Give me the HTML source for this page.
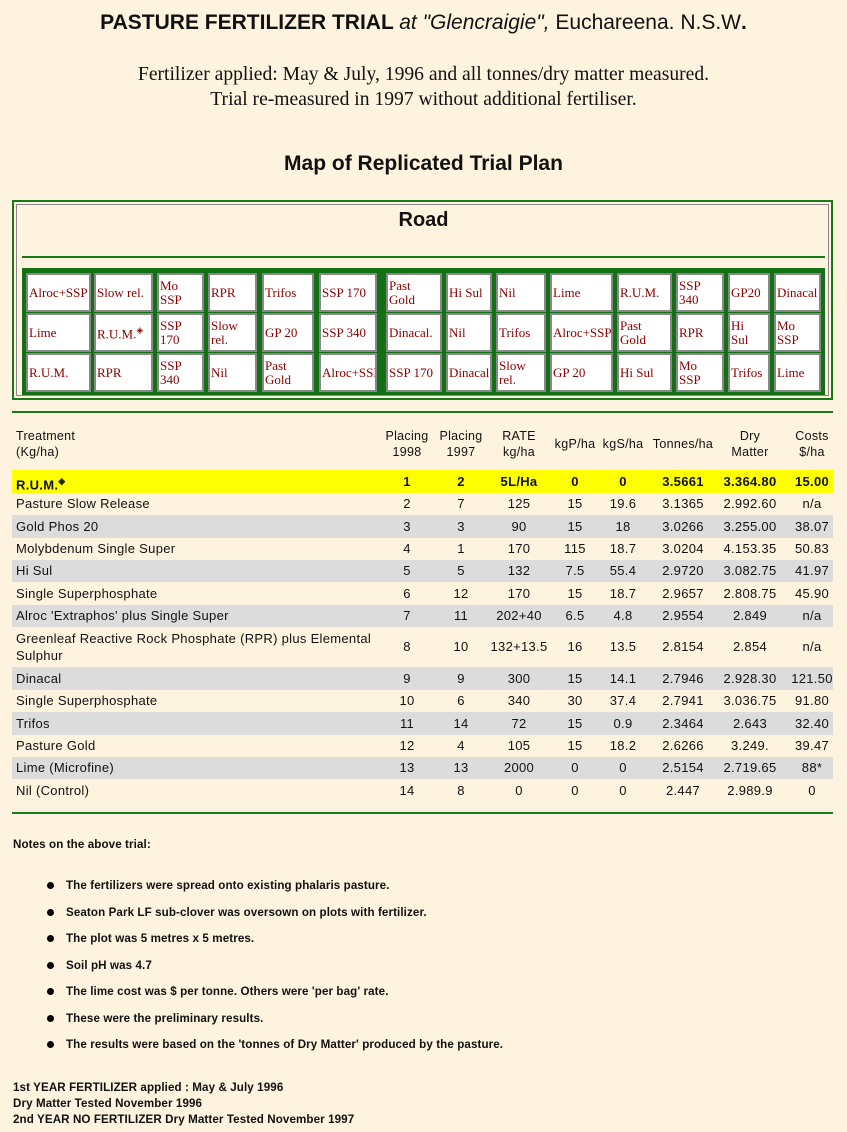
<!DOCTYPE html>
<html><head><meta charset="utf-8"><style>
body{margin:0;width:847px;height:1132px;background:#fdf3de;position:relative;overflow:hidden;font-family:"Liberation Sans",sans-serif;color:#111}
.a{position:absolute;white-space:nowrap}
.c{position:absolute;background:#fff;border:2px solid #888;box-sizing:border-box;font-family:"Liberation Serif",serif;font-size:13px;color:#8b0000;line-height:14px;padding:1px 1px;display:flex;align-items:center;overflow:hidden;white-space:nowrap}
.r{position:absolute;left:12px;width:821px;font-size:13px;letter-spacing:.3px}
.n{position:absolute;text-align:center;transform:translateX(-50%);white-space:nowrap}
.notes{font-size:11.6px;font-weight:bold;color:#111;letter-spacing:.1px}
</style></head><body>
<div class="a" style="left:0;width:847px;text-align:center;top:11px;font-size:21px;font-weight:bold">PASTURE FERTILIZER TRIAL <i style="font-weight:normal">at "Glencraigie",</i> <span style="font-weight:normal">Euchareena. N.S.W</span>.</div>
<div class="a" style="left:0;width:847px;text-align:center;top:62px;font-family:'Liberation Serif',serif;font-size:19.6px;line-height:25px">Fertilizer applied: May &amp; July, 1996 and all tonnes/dry matter measured.<br>Trial re-measured in 1997 without additional fertiliser.</div>
<div class="a" style="left:0;width:847px;text-align:center;top:152px;font-size:21px;font-weight:bold">Map of Replicated Trial Plan</div>
<div class="a" style="left:12px;top:200px;width:821px;height:200px;border:2px solid #1a7a1a;box-sizing:border-box"></div>
<div class="a" style="left:16px;top:204px;width:813px;height:192px;border:1px solid #888;box-sizing:border-box"></div>
<div class="a" style="left:0;width:847px;text-align:center;top:209px;font-size:20px;font-weight:bold">Road</div>
<div class="a" style="left:22px;top:256px;width:803px;height:2px;background:#1a7a1a"></div>
<div class="a" style="left:22px;top:268px;width:803px;height:127px;background:#147014"></div>
<div id="grid"></div>
<div class="a" style="left:12px;top:411px;width:821px;height:2px;background:#1a7a1a"></div>
<div class="a" style="left:12px;top:812px;width:821px;height:2px;background:#1a7a1a"></div>
<div id="tbl"></div>
<div class="a notes" style="left:13px;top:838px">Notes on the above trial:</div>
<div id="notes"></div>
<div class="a notes" style="left:13px;top:1080px;line-height:16px">1st YEAR FERTILIZER applied : May &amp; July 1996<br>Dry Matter Tested November 1996<br>2nd YEAR NO FERTILIZER Dry Matter Tested November 1997</div>
<script>
var cols=[[26,91],[94,153],[157,204],[208,257],[262,314],[319,377],[386,442],[446,492],[496,546],[550,613],[617,672],[676,724],[728,770],[774,821]];
var rows=[[273,312],[313,352],[353,392]];
var g=[["Alroc+SSP","Slow rel.","Mo<br>SSP","RPR","Trifos","SSP 170","Past<br>Gold","Hi Sul","Nil","Lime","R.U.M.","SSP<br>340","GP20","Dinacal"],
["Lime","R.U.M.<sup style='font-size:9px'>&#9672;</sup>","SSP<br>170","Slow<br>rel.","GP 20","SSP 340","Dinacal.","Nil","Trifos","Alroc+SSP","Past<br>Gold","RPR","Hi<br>Sul","Mo<br>SSP"],
["R.U.M.","RPR","SSP<br>340","Nil","Past<br>Gold","Alroc+SSP","SSP 170","Dinacal","Slow<br>rel.","GP 20","Hi Sul","Mo<br>SSP","Trifos","Lime"]];
var h="";
for(var i=0;i<3;i++)for(var j=0;j<14;j++)h+='<div class="c" style="left:'+cols[j][0]+'px;top:'+rows[i][0]+'px;width:'+(cols[j][1]-cols[j][0])+'px;height:'+(rows[i][1]-rows[i][0])+'px"><span>'+g[i][j]+'</span></div>';
document.getElementById("grid").innerHTML=h;
var cx=[407,461,519,575,623,683,750,812];
var t='<div class="r" style="top:428px;height:36px;font-size:12.5px;line-height:16px"><div class="a" style="left:4px;top:0">Treatment<br>(Kg/ha)</div>';
var hd=["Placing<br>1998","Placing<br>1997","RATE<br>kg/ha","kgP/ha","kgS/ha","Tonnes/ha","Dry<br>Matter","Costs<br>$/ha"];
for(var k=0;k<8;k++){var one=hd[k].indexOf("<br>")<0;t+='<div class="n" style="left:'+(cx[k]-12)+'px;top:'+(one?8:0)+'px">'+hd[k]+'</div>';}
t+='</div>';
var d=[["R.U.M.<sup style='font-size:9px'>&#9672;</sup>","1","2","5L/Ha","0","0","3.5661","3.364.80","15.00",470,23,"#ffff00",1],
["Pasture Slow Release","2","7","125","15","19.6","3.1365","2.992.60","n/a",493,22,"",0],
["Gold Phos 20","3","3","90","15","18","3.0266","3.255.00","38.07",515,23,"#dcdcdc",0],
["Molybdenum Single Super","4","1","170","115","18.7","3.0204","4.153.35","50.83",538,22,"",0],
["Hi Sul","5","5","132","7.5","55.4","2.9720","3.082.75","41.97",560,22,"#dcdcdc",0],
["Single Superphosphate","6","12","170","15","18.7","2.9657","2.808.75","45.90",582,23,"",0],
["Alroc 'Extraphos' plus Single Super","7","11","202+40","6.5","4.8","2.9554","2.849","n/a",605,22,"#dcdcdc",0],
["Greenleaf Reactive Rock Phosphate (RPR) plus Elemental<br>Sulphur","8","10","132+13.5","16","13.5","2.8154","2.854","n/a",627,40,"",0],
["Dinacal","9","9","300","15","14.1","2.7946","2.928.30","121.50",667,23,"#dcdcdc",0],
["Single Superphosphate","10","6","340","30","37.4","2.7941","3.036.75","91.80",690,22,"",0],
["Trifos","11","14","72","15","0.9","2.3464","2.643","32.40",712,23,"#dcdcdc",0],
["Pasture Gold","12","4","105","15","18.2","2.6266","3.249.","39.47",735,22,"",0],
["Lime (Microfine)","13","13","2000","0","0","2.5154","2.719.65","88*",757,22,"#dcdcdc",0],
["Nil (Control)","14","8","0","0","0","2.447","2.989.9","0",779,23,"",0]];
for(var r=0;r<d.length;r++){var x=d[r];
t+='<div class="r" style="top:'+x[9]+'px;height:'+x[10]+'px;background:'+(x[11]||"transparent")+';line-height:'+x[10]+'px;'+(x[12]?'font-weight:bold;font-size:13px':'')+'">';
if(x[0].indexOf("<br>")>0)t+='<div class="a" style="left:4px;top:3px;line-height:17px">'+x[0]+'</div>';
else t+='<div class="a" style="left:4px;top:0">'+x[0]+'</div>';
for(var k=0;k<8;k++)t+='<div class="n" style="left:'+(cx[k]-12)+'px;top:0">'+x[k+1]+'</div>';
t+='</div>';}
document.getElementById("tbl").innerHTML=t;
var nt=["The fertilizers were spread onto existing phalaris pasture.","Seaton Park LF sub-clover was oversown on plots with fertilizer.","The plot was 5 metres x 5 metres.","Soil pH was 4.7","The lime cost was $ per tonne. Others were 'per bag' rate.","These were the preliminary results.","The results were based on the 'tonnes of Dry Matter' produced by the pasture."];
var s="";for(var i=0;i<nt.length;i++){var y=881+i*26.5;s+='<div class="a" style="left:47px;top:'+(y+1)+'px;width:7px;height:7px;border-radius:50%;background:#000"></div><div class="a notes" style="left:66px;top:'+(y-2)+'px">'+nt[i]+'</div>';}
document.getElementById("notes").innerHTML=s;
</script>
</body></html>
